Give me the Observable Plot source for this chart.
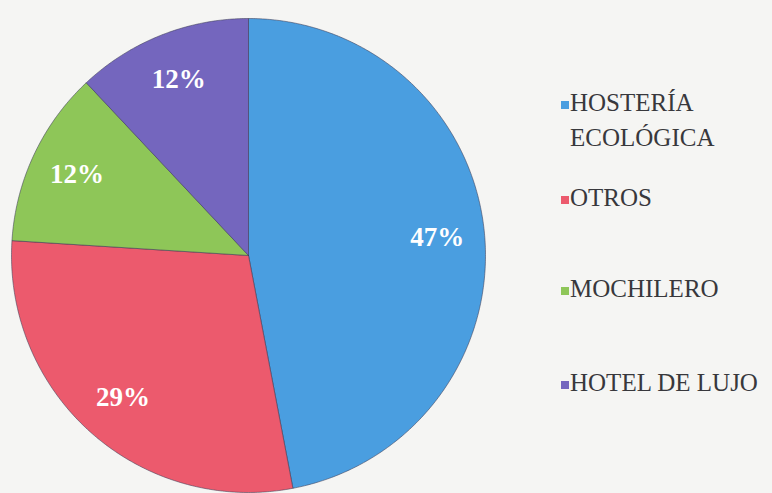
<!DOCTYPE html>
<html>
<head>
<meta charset="utf-8">
<script src="https://cdn.jsdelivr.net/npm/d3@7"></script>
<script src="https://cdn.jsdelivr.net/npm/@observablehq/plot@0.6"></script>
<style>
  html, body { margin: 0; padding: 0; background: #f5f5f3; }
  #wrap { position: relative; width: 772px; height: 493px; overflow: hidden; background: #f5f5f3; }
  #legend { position: absolute; left: 0; top: 0; font-family: "Liberation Serif", Tinos, "Times New Roman", "DejaVu Serif", serif; font-size: 25px; color: #38383c; line-height: 35px; }
  .item { position: absolute; left: 561px; white-space: nowrap; display: flex; align-items: flex-start; }
  .sw { width: 8px; height: 8px; margin-right: 1px; flex: none; }
  svg text { font-family: "Liberation Serif", Tinos, "Times New Roman", "DejaVu Serif", serif !important; }
</style>
</head>
<body>
<div id="wrap"><div id="chart"></div><div id="legend"></div></div>
<script>
// ---- data ----
const categories = ["HOSTERÍA ECOLÓGICA", "OTROS", "MOCHILERO", "HOTEL DE LUJO"];
const legendLabels = [["HOSTERÍA", "ECOLÓGICA"], ["OTROS"], ["MOCHILERO"], ["HOTEL DE LUJO"]];
const values = [47, 29, 12, 12];
const pctLabels = ["47%", "29%", "12%", "12%"];

// ---- style ----
const palette = ["#4a9ee0", "#ec5a6d", "#8ec658", "#7466be"];
const legendTops = [85, 180, 271, 365];

// build slice polygons (unit circle, clockwise from 12 o'clock)
const total = d3.sum(values);
const slices = [];
const labels = [];
let acc = 0;
values.forEach((v, i) => {
  const a0 = acc / total * 2 * Math.PI;
  acc += v;
  const a1 = acc / total * 2 * Math.PI;
  slices.push({cat: categories[i], x: 0, y: 0});
  const n = Math.max(2, Math.ceil((a1 - a0) / 0.01));
  for (let k = 0; k <= n; k++) {
    const a = a0 + (a1 - a0) * k / n;
    slices.push({cat: categories[i], x: Math.sin(a), y: Math.cos(a)});
  }
  slices.push({cat: categories[i], x: 0, y: 0});
  const am = (a0 + a1) / 2;
  labels.push({cat: categories[i], text: pctLabels[i], x: 0.8 * Math.sin(am), y: 0.8 * Math.cos(am)});
});

const plot = Plot.plot({
  width: 772,
  height: 493,
  marginLeft: 11,
  marginRight: 287,
  marginTop: 18,
  marginBottom: 1,
  style: {background: "#f5f5f3", overflow: "visible", fontFamily: "'Liberation Serif', Tinos, 'DejaVu Serif', serif"},
  x: {domain: [-1, 1], axis: null},
  y: {domain: [-1, 1], axis: null},
  color: {domain: categories, range: palette},
  marks: [
    Plot.line(slices, {x: "x", y: "y", z: "cat", fill: "cat", stroke: "#3c3c55", strokeOpacity: 0.55, strokeWidth: 1, strokeLinejoin: "round"}),
    Plot.text(labels, {x: "x", y: "y", text: "text", fill: "white", fontSize: 27, fontWeight: "bold"})
  ]
});
document.getElementById("chart").appendChild(plot);

// legend
const leg = document.getElementById("legend");
legendLabels.forEach((lines, i) => {
  const item = document.createElement("div");
  item.className = "item";
  item.style.top = legendTops[i] + "px";
  const sw = document.createElement("div");
  sw.className = "sw";
  sw.style.background = palette[i];
  sw.style.marginTop = "16px";
  const txt = document.createElement("div");
  txt.innerHTML = lines.join("<br>");
  item.appendChild(sw);
  item.appendChild(txt);
  leg.appendChild(item);
});
</script>
</body>
</html>
